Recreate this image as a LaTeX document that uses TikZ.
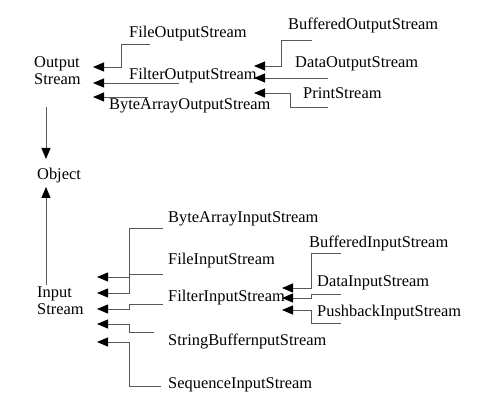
\documentclass[tikz,border=0pt]{standalone}
\usepackage{fontspec}
\setmainfont{Liberation Serif}
\usetikzlibrary{arrows.meta}
\tikzset{
  lbl/.style={anchor=base west, inner sep=0pt, font=\fontsize{16.4}{17}\selectfont},
  link/.style={draw=black!65, line width=0.9pt, -{Triangle[length=11pt,width=9pt,color=black]}},
  plain/.style={draw=black!65, line width=0.9pt},
}
\begin{document}
\begin{tikzpicture}[x=1pt,y=-1pt]
\useasboundingbox (0,0) rectangle (480,406);

% Output side
\node[lbl, anchor=north west, align=left] (outs) at (34,56) {Output\\Stream};
\node[lbl] (fileout) at (129,38) {FileOutputStream};
\node[lbl] (filterout) at (129,80) {FilterOutputStream};
\node[lbl] (bytearrout) at (109,110) {ByteArrayOutputStream};
\node[lbl] (bufout) at (288,30) {BufferedOutputStream};
\node[lbl] (dataout) at (295,68) {DataOutputStream};
\node[lbl] (printout) at (303,99) {PrintStream};

\foreach \n/\y in {a1/67,a2/83,a3/97} \coordinate (\n) at (93,\y);
\foreach \n/\y in {b1/66,b2/78,b3/93} \coordinate (\n) at (254,\y);

\coordinate (sfile) at (150,44);
\coordinate (sfilter) at (179,83);
\coordinate (sbyte) at (148,97);
\coordinate (sbuf) at (312,40);
\coordinate (sdata) at (328,78);
\coordinate (sprint) at (328,107);

\draw[link] (sfile) -- ++(-29,0) |- (a1);
\draw[link] (sfilter) -- (a2);
\draw[link] (sbyte) -- (a3);
\draw[link] (sbuf) -- ++(-31,0) |- (b1);
\draw[link] (sdata) -- (b2);
\draw[link] (sprint) -- ++(-38,0) |- (b3);

% Object
\node[lbl] (obj) at (37,180) {Object};
\coordinate (outbot) at (46,107);
\coordinate (objtop) at (46,159);
\coordinate (objbot) at (46,187);
\coordinate (intop) at (46,285);
\draw[link] (outbot) -- (objtop);
\draw[link] (intop) -- (objbot);

% Input side
\node[lbl, anchor=north west, align=left] (ins) at (37,287) {Input\\Stream};
\node[lbl] (bytearrin) at (168,223) {ByteArrayInputStream};
\node[lbl] (filein) at (168,265) {FileInputStream};
\node[lbl] (filterin) at (168,302) {FilterInputStream};
\node[lbl] (strbufin) at (168,346) {StringBuffernputStream};
\node[lbl] (seqin) at (168,389) {SequenceInputStream};
\node[lbl] (bufin) at (309,248) {BufferedInputStream};
\node[lbl] (datain) at (317,287) {DataInputStream};
\node[lbl] (pushin) at (317,317) {PushbackInputStream};

\foreach \n/\y in {c1/277,c2/293,c3/309,c4/324,c5/342} \coordinate (\n) at (97,\y);
\foreach \n/\y in {d1/288,d2/298,d3/310} \coordinate (\n) at (282,\y);

\coordinate (sbytein) at (163,228);
\coordinate (sfilein) at (163,274);
\coordinate (jfilein) at (129,274);
\coordinate (jc1) at (129,277);
\coordinate (sfilterin) at (163,304);
\coordinate (sstrbuf) at (154,332);
\coordinate (sseq) at (161,386);
\coordinate (sbufin) at (341,253);
\coordinate (sdatain) at (341,294);
\coordinate (spush) at (341,323);

\draw[link] (sbytein) -- ++(-34,0) |- (c2);
\draw[plain] (sfilein) -- (jfilein);
\draw[link] (jc1) -- (c1);
\draw[link] (sfilterin) -- ++(-34,0) |- (c3);
\draw[link] (sstrbuf) -- ++(-25,0) |- (c4);
\draw[link] (sseq) -- ++(-32,0) |- (c5);
\draw[link] (sbufin) -- ++(-30,0) |- (d1);
\draw[link] (sdatain) -- ++(-30,0) |- (d2);
\draw[link] (spush) -- ++(-30,0) |- (d3);
\end{tikzpicture}
\end{document}
